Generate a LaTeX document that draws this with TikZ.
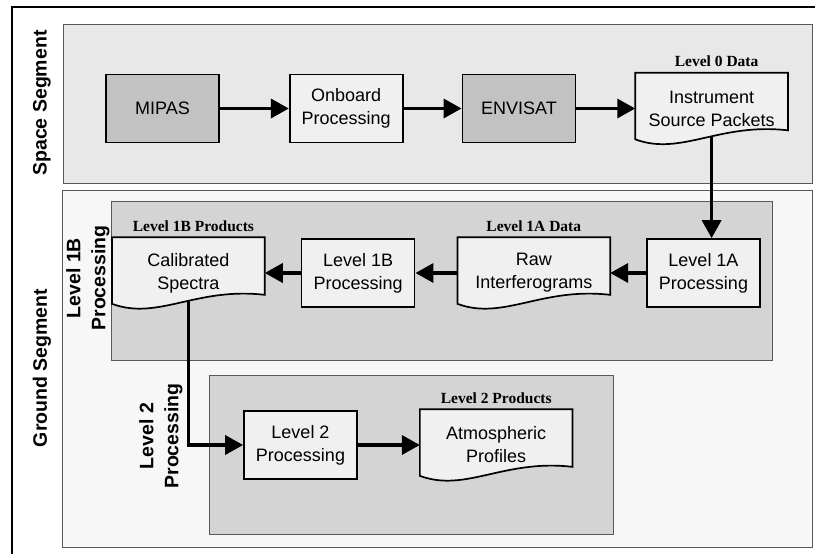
\documentclass[tikz,border=0pt]{standalone}
\usepackage{fontspec}
\setmainfont{Liberation Sans}
\newfontfamily\labelfont{Liberation Serif}
\usetikzlibrary{arrows.meta,positioning,calc}

\pgfdeclarelayer{background}
\pgfdeclarelayer{lines}
\pgfsetlayers{background,lines,main}

\definecolor{panelspace}{gray}{0.91}
\definecolor{panelground}{gray}{0.97}
\definecolor{panelproc}{gray}{0.83}
\definecolor{boxlight}{gray}{0.94}
\definecolor{boxdark}{gray}{0.76}
\definecolor{panelline}{gray}{0.35}

% outline of a data product (box with wavy bottom)
\newcommand{\docoutline}[1]{%
  \draw[docline] (#1.north west) -- (#1.north east) -- ($(#1.south east)+(0,-14)$)
    .. controls ($(#1.south west)!0.55!(#1.south east)+(0,-22)$) and ($(#1.south west)!0.3!(#1.south east)+(0,12)$)
    .. ($(#1.south west)+(0,-5)$) -- cycle;}

\begin{document}
\begin{tikzpicture}[
    x=1pt, y=-1pt,
    font=\fontsize{18}{23}\selectfont,
    procbox/.style={draw, line width=1.7pt, fill=boxlight, align=center, minimum width=113pt, minimum height=68pt, inner sep=0pt},
    unitbox/.style={procbox, fill=boxdark},
    docbox/.style={align=center, minimum width=151pt, minimum height=70pt, inner sep=0pt, line width=1.7pt},
    docline/.style={draw, line width=1.7pt, fill=boxlight},
    panel/.style={draw=panelline, line width=0.9pt},
    datalabel/.style={font=\labelfont\bfseries\fontsize{15.5}{17}\selectfont},
    seglabel/.style={rotate=90, align=center, font=\bfseries\fontsize{19.5}{25}\selectfont},
    arrow/.style={-{Triangle[length=18pt,width=19pt]}, line width=3.5pt}
  ]
  \useasboundingbox (0,0) rectangle (815,554);

  % space segment
  \node[unitbox] (mipas) at (162.5,108.5) {MIPAS};
  \node[procbox, right=69pt of mipas] (onboard) {Onboard\\Processing};
  \node[unitbox, right=58pt of onboard] (envisat) {ENVISAT};
  \node[docbox, right=59pt of envisat] (isp) {Instrument\\Source Packets};
  \node[datalabel, above=2pt of isp, xshift=5pt] (lvl0) {Level 0 Data};

  % level 1B processing
  \node[procbox] (l1a) at (703.5,273) {Level 1A\\Processing};
  \node[docbox, left=36pt of l1a] (raw) {Raw\\Interferograms};
  \node[procbox, left=42pt of raw] (l1b) {Level 1B\\Processing};
  \node[docbox, left=36pt of l1b] (cs) {Calibrated\\Spectra};
  \node[datalabel, above=2pt of raw] (lvl1a) {Level 1A Data};
  \node[datalabel, above=2pt of cs, xshift=5pt] (lvl1b) {Level 1B Products};

  % level 2 processing
  \node[procbox] (l2p) at (300.5,445) {Level 2\\Processing};
  \node[docbox, right=62pt of l2p] (atm) {Atmospheric\\Profiles};
  \node[datalabel, above=2pt of atm] (lvl2) {Level 2 Products};

  \node[seglabel] (space) at (42,103) {Space Segment};
  \node[seglabel] (ground) at (42,368) {Ground Segment};
  \node[seglabel] (l1bproc) at (88,278) {Level 1B\\Processing};
  \node[seglabel] (l2proc) at (161,436) {Level 2\\Processing};

  \begin{pgfonlayer}{background}
    \draw[line width=2pt] (815,7) -- (12,7) -- (12,554);
    \draw[panel, fill=panelspace] (63,24) rectangle (812,183);
    \draw[panel, fill=panelground] (62,190) rectangle (812,547);
    \draw[panel, fill=panelproc] (111,201) rectangle (772,360);
    \draw[panel, fill=panelproc] (209,375) rectangle (613,534);
  \end{pgfonlayer}

  \begin{pgfonlayer}{lines}
    \draw[arrow] (mipas) -- (onboard);
    \draw[arrow] (onboard) -- (envisat);
    \draw[arrow] (envisat) -- (isp);
    \draw[arrow] (isp.center) -- (isp.center |- l1a.north);
    \draw[arrow] (l1a) -- (raw);
    \draw[arrow] (raw) -- (l1b);
    \draw[arrow] (l1b) -- (cs);
    \draw[arrow] (cs.center) |- (l2p);
    \draw[arrow] (l2p) -- (atm);
    \docoutline{isp}
    \docoutline{raw}
    \docoutline{cs}
    \docoutline{atm}
  \end{pgfonlayer}
\end{tikzpicture}
\end{document}
